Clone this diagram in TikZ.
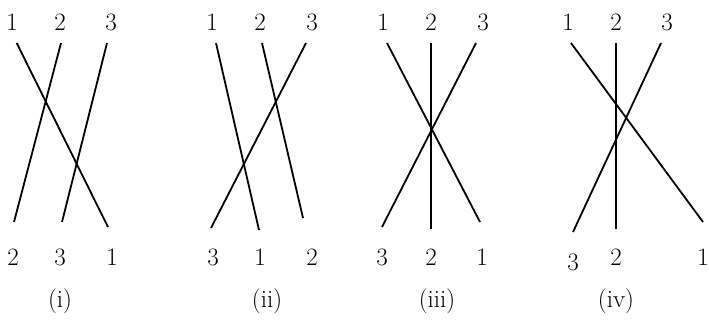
\documentclass[tikz,border=0pt]{standalone}
\begin{document}
\begin{tikzpicture}[x=1pt,y=-1pt,
  lab/.style={inner sep=0pt,font=\fontsize{25}{29}\selectfont},
  strand/.style={line width=1.8pt,line cap=butt}]
\useasboundingbox (0,0) rectangle (709,322);
% panel (i)
\node[lab] (a1) at (12,22) {1};
\node[lab] (a2) at (60,22) {2};
\node[lab] (a3) at (111,22) {3};
\node[lab] (ab2) at (13,257) {2};
\node[lab] (ab3) at (60,257) {3};
\node[lab] (ab1) at (112,257) {1};
\node[lab] (ai) at (60,301) {(i)};
\coordinate (a1t) at (16.7,43); \coordinate (a1b) at (108,227);
\coordinate (a2t) at (61,43);   \coordinate (a2b) at (14,222);
\coordinate (a3t) at (107,43);  \coordinate (a3b) at (62,222);
\draw[strand] (a1t) -- (a1b);
\draw[strand] (a2t) -- (a2b);
\draw[strand] (a3t) -- (a3b);
% panel (ii)
\node[lab] (b1) at (212,22) {1};
\node[lab] (b2) at (260,22) {2};
\node[lab] (b3) at (312,22) {3};
\node[lab] (bb3) at (213,257) {3};
\node[lab] (bb1) at (260,257) {1};
\node[lab] (bb2) at (312,257) {2};
\node[lab] (bi) at (267,301) {(ii)};
\coordinate (b1t) at (216,43); \coordinate (b1b) at (259,230);
\coordinate (b2t) at (262,43); \coordinate (b2b) at (303,218);
\coordinate (b3t) at (306,43); \coordinate (b3b) at (211,228);
\draw[strand] (b1t) -- (b1b);
\draw[strand] (b2t) -- (b2b);
\draw[strand] (b3t) -- (b3b);
% panel (iii)
\node[lab] (c1) at (383,22) {1};
\node[lab] (c2) at (431,22) {2};
\node[lab] (c3) at (483,22) {3};
\node[lab] (cb3) at (382,257) {3};
\node[lab] (cb2) at (431,257) {2};
\node[lab] (cb1) at (482,257) {1};
\node[lab] (ci) at (437,301) {(iii)};
\coordinate (c1t) at (387,43); \coordinate (c1b) at (480,222);
\coordinate (c2t) at (431,43); \coordinate (c2b) at (431,229);
\coordinate (c3t) at (476,43); \coordinate (c3b) at (382,227);
\draw[strand] (c1t) -- (c1b);
\draw[strand] (c2t) -- (c2b);
\draw[strand] (c3t) -- (c3b);
% panel (iv)
\node[lab] (d1) at (568,22) {1};
\node[lab] (d2) at (616,22) {2};
\node[lab] (d3) at (667,22) {3};
\node[lab] (db3) at (573,262) {3};
\node[lab] (db2) at (616,257) {2};
\node[lab] (db1) at (703,257) {1};
\node[lab] (di) at (616,301) {(iv)};
\coordinate (d1t) at (571,43); \coordinate (d1b) at (703,222);
\coordinate (d2t) at (616,43); \coordinate (d2b) at (616,229);
\coordinate (d3t) at (661,43); \coordinate (d3b) at (573,232);
\draw[strand] (d1t) -- (d1b);
\draw[strand] (d2t) -- (d2b);
\draw[strand] (d3t) -- (d3b);
\end{tikzpicture}
\end{document}
